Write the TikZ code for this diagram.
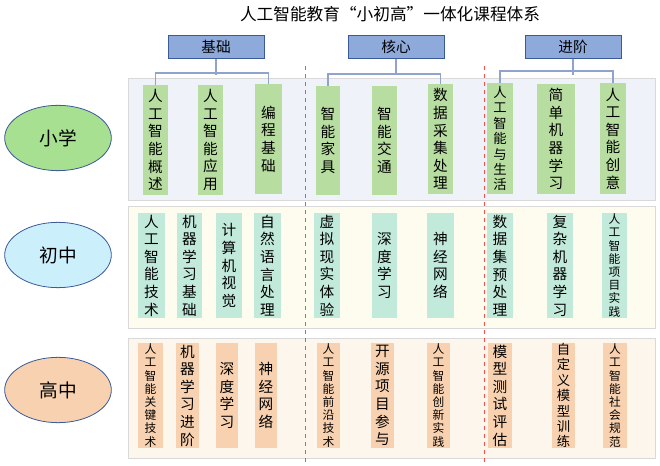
\documentclass[tikz,border=0pt]{standalone}
\usepackage{fontspec}
\setmainfont{Liberation Serif}
\newfontfamily\cjk{Noto Sans CJK SC}
\usetikzlibrary{shapes.geometric}
\definecolor{hdr}{HTML}{8EAADB}
\definecolor{hdrb}{HTML}{3B5A9A}
\definecolor{brk}{HTML}{8FA3CC}
\definecolor{gA}{HTML}{B8DDA0}
\definecolor{cA}{HTML}{C2EADB}
\definecolor{pA}{HTML}{F8D2B0}
\definecolor{p1}{HTML}{EFF2F9}
\definecolor{p2}{HTML}{FEFCEE}
\definecolor{p3}{HTML}{FDF6EC}
\tikzset{
 hbox/.style={draw=hdrb,fill=hdr,minimum width=72pt,minimum height=17pt,inner sep=0pt,font=\cjk\fontsize{11pt}{13pt}\selectfont},
 panel/.style={draw=black!15,line width=0.6pt},
 lvl/.style={ellipse,draw=hdrb,line width=0.6pt,minimum width=80pt,minimum height=49pt,font=\cjk\fontsize{14pt}{16pt}\selectfont},
 brkl/.style={draw=brk,line width=0.8pt},
 big/.style={font=\cjk\fontsize{11pt}{13.2pt}\selectfont,align=center,inner sep=0pt},
 mid/.style={font=\cjk\fontsize{10pt}{11.6pt}\selectfont,align=center,inner sep=0pt},
 sml/.style={font=\cjk\fontsize{8.8pt}{9.9pt}\selectfont,align=center,inner sep=0pt},
 sep/.style={draw=red!70,dashed,line width=0.6pt}
}
\newcommand\bx[8]{%
 \fill[#6] (#2,#4) rectangle (#3,#5);
 \node[#8] (#1) at ({(#2+#3)/2},{(#4+#5)/2}) {#7};
 \coordinate (#1t) at ({(#2+#3)/2},#4);}
\begin{document}
\begin{tikzpicture}[x=0.75pt,y=-0.75pt]
\useasboundingbox (0,0) rectangle (660,466);
\fill[white] (0,0) rectangle (660,466);
\node[font=\cjk\fontsize{12.5pt}{14pt}\selectfont] (title) at (390,14) {人工智能教育“小初高”一体化课程体系};
% panels
\draw[panel,fill=p1] (128,78) rectangle (655,200);
\draw[panel,fill=p2] (128,206) rectangle (655,328);
\draw[panel,fill=p3] (128,338) rectangle (655,458);
% ellipses
\node[lvl,fill=gA!90!green] (xx) at (58,138) {小学};
\node[lvl,fill=cyan!20!white] (cz) at (58,255) {初中};
\node[lvl,fill=pA] (gz) at (58,390) {高中};
% headers
\node[hbox] (h1) at (216,47) {基础};
\node[hbox] (h2) at (396,47) {核心};
\node[hbox] (h3) at (573,47) {进阶};
% row1
\bx{a1}{143}{168}{85}{195}{gA}{人\\工\\智\\能\\概\\述}{big}
\bx{a2}{198}{223}{85}{195}{gA}{人\\工\\智\\能\\应\\用}{big}
\bx{a3}{255}{282}{84}{194}{gA}{编\\程\\基\\础}{big}
\bx{a4}{316}{340}{86}{195}{gA}{智\\能\\家\\具}{big}
\bx{a5}{372}{397}{86}{195}{gA}{智\\能\\交\\通}{big}
\bx{a6}{428}{453}{84}{194}{gA}{数\\据\\采\\集\\处\\理}{big}
\bx{a7}{487}{513}{83}{194}{gA}{人\\工\\智\\能\\与\\生\\活}{mid}
\bx{a8}{537}{575}{84}{194}{gA}{简\\单\\机\\器\\学\\习}{big}
\bx{a9}{600}{626}{83}{194}{gA}{人\\工\\智\\能\\创\\意}{big}
% brackets
\foreach \h/\l/\r in {h1/a1/a3,h2/a4/a6,h3/a7/a9}{
 \draw[brkl] (\h.south) -- ++(0,16);
 \draw[brkl] (\l t) -- ++(0,-12) -| (\r t);
}
% row2
\bx{b1}{138}{165}{213}{318}{cA}{人\\工\\智\\能\\技\\术}{big}
\bx{b2}{177}{202}{213}{318}{cA}{机\\器\\学\\习\\基\\础}{big}
\bx{b3}{216}{242}{213}{318}{cA}{计\\算\\机\\视\\觉}{big}
\bx{b4}{254}{281}{213}{318}{cA}{自\\然\\语\\言\\处\\理}{big}
\bx{b5}{314}{340}{213}{318}{cA}{虚\\拟\\现\\实\\体\\验}{big}
\bx{b6}{372}{397}{213}{318}{cA}{深\\度\\学\\习}{big}
\bx{b7}{427}{454}{213}{318}{cA}{神\\经\\网\\络}{big}
\bx{b8}{487}{513}{213}{318}{cA}{数\\据\\集\\预\\处\\理}{big}
\bx{b9}{547}{573}{213}{318}{cA}{复\\杂\\机\\器\\学\\习}{big}
\bx{b10}{602}{627}{213}{318}{cA}{人\\工\\智\\能\\项\\目\\实\\践}{sml}
% row3
\bx{c1}{138}{163}{343}{448}{pA}{人\\工\\智\\能\\关\\键\\技\\术}{sml}
\bx{c2}{176}{199}{343}{448}{pA}{机\\器\\学\\习\\进\\阶}{big}
\bx{c3}{216}{238}{343}{448}{pA}{深\\度\\学\\习}{big}
\bx{c4}{255}{277}{343}{448}{pA}{神\\经\\网\\络}{big}
\bx{c5}{317}{340}{343}{448}{pA}{人\\工\\智\\能\\前\\沿\\技\\术}{sml}
\bx{c6}{371}{394}{343}{448}{pA}{开\\源\\项\\目\\参\\与}{big}
\bx{c7}{427}{450}{343}{448}{pA}{人\\工\\智\\能\\创\\新\\实\\践}{sml}
\bx{c8}{488}{512}{343}{448}{pA}{模\\型\\测\\试\\评\\估}{big}
\bx{c9}{552}{575}{343}{448}{pA}{自\\定\\义\\模\\型\\训\\练}{mid}
\bx{c10}{603}{627}{343}{448}{pA}{人\\工\\智\\能\\社\\会\\规\\范}{sml}
% separators
\coordinate (s1t) at (305,66); \coordinate (s1b) at (305,464);
\coordinate (s2t) at (484,66); \coordinate (s2b) at (484,464);
\draw[sep] (s1t) -- (s1b);
\draw[sep] (s2t) -- (s2b);
\end{tikzpicture}
\end{document}
